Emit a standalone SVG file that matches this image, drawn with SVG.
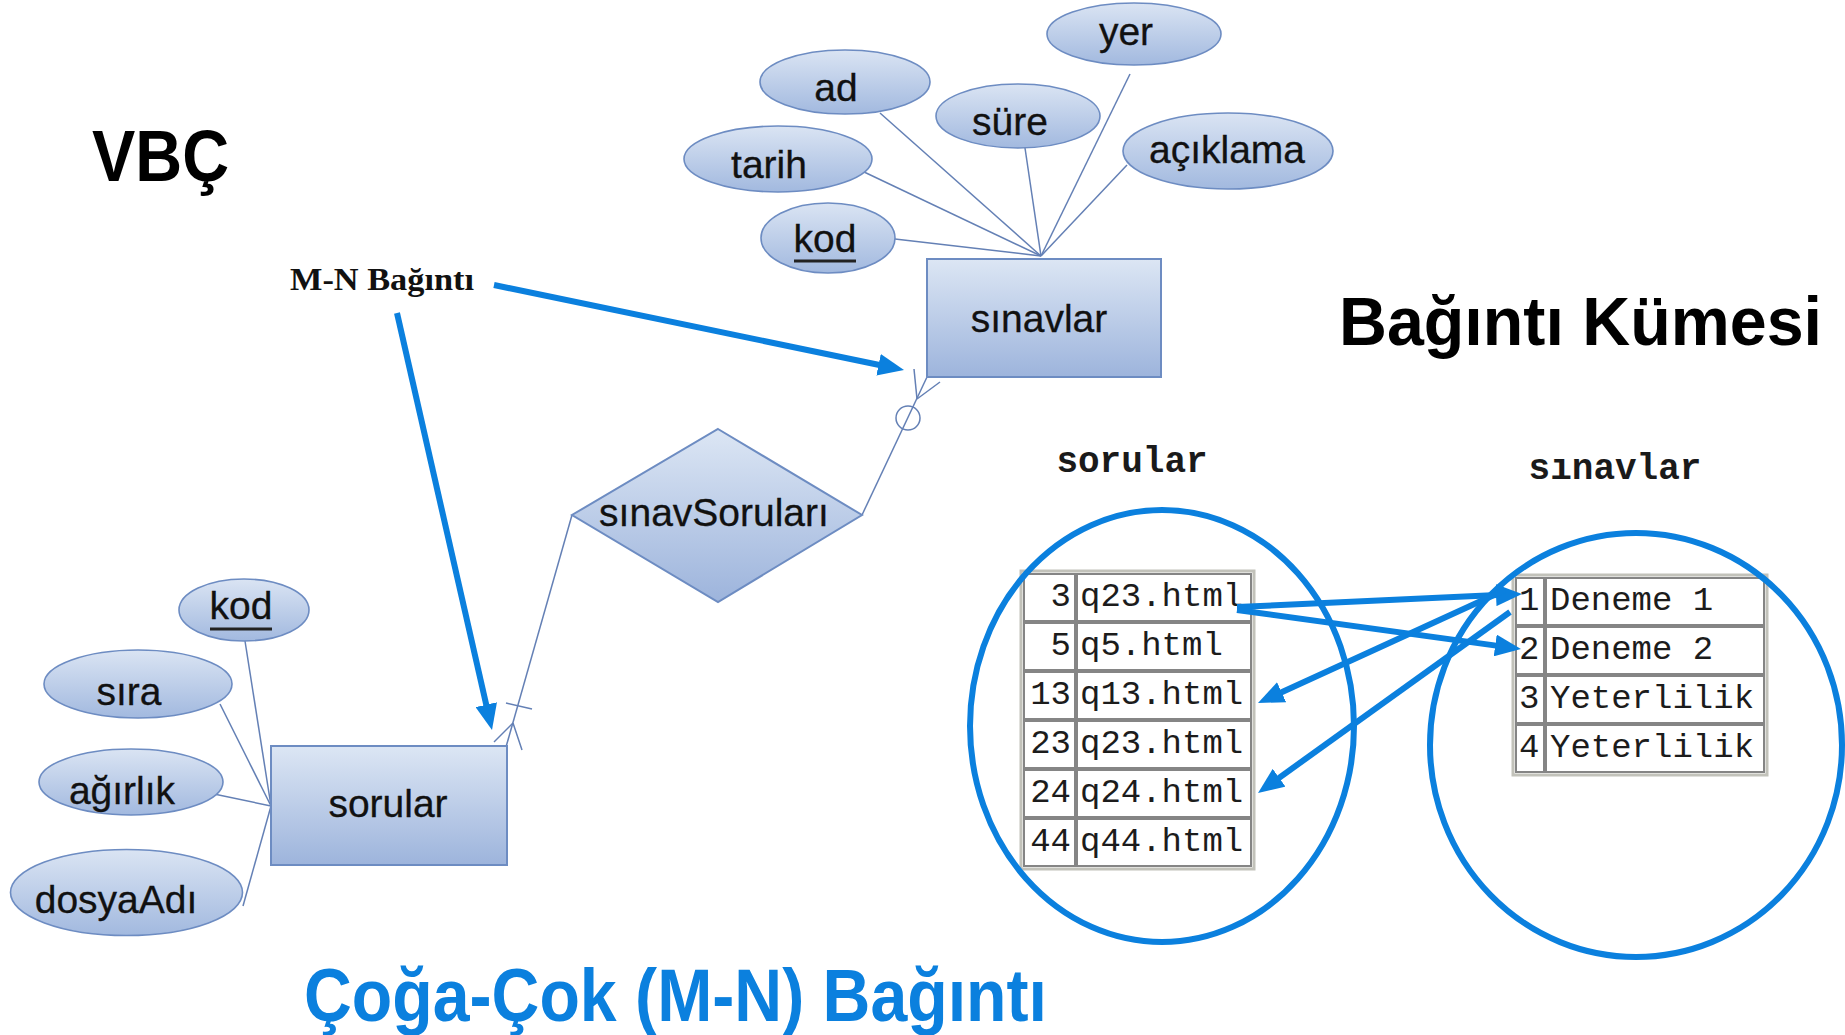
<svg xmlns="http://www.w3.org/2000/svg" width="1845" height="1035" viewBox="0 0 1845 1035">
  <defs>
    <linearGradient id="gEnt" x1="0" y1="0" x2="0" y2="1">
      <stop offset="0" stop-color="#dce6f4"/>
      <stop offset="1" stop-color="#9db4dc"/>
    </linearGradient>
    <linearGradient id="gAttr" x1="0" y1="0" x2="0" y2="1">
      <stop offset="0" stop-color="#dae4f3"/>
      <stop offset="1" stop-color="#a2b9df"/>
    </linearGradient>
    <marker id="ah" markerUnits="userSpaceOnUse" markerWidth="26" markerHeight="22" viewBox="0 0 26 22" refX="12" refY="11" orient="auto">
      <path d="M0,0 L26,11 L0,22 z" fill="#0b80de"/>
    </marker>
    <style>
      .ent { fill: url(#gEnt); stroke: #6d8cc2; stroke-width: 2; }
      .attr { fill: url(#gAttr); stroke: #6d8cc2; stroke-width: 1.6; }
      .lbl { font-family: "Liberation Sans", Arial, sans-serif; font-size: 39px; fill: #111; stroke: #111; stroke-width: 0.3; text-anchor: middle; }
      .ul { stroke: #222; stroke-width: 3; }
      .link { stroke: #6480b5; stroke-width: 1.5; fill: none; }
      .blue { stroke: #0b80de; stroke-width: 6; fill: none; marker-end: url(#ah); }
      .ring { stroke: #0b80de; stroke-width: 6; fill: none; }
      .frame { fill: #ffffff; stroke: #c2c2ba; stroke-width: 3; }
      .cell { fill: #ffffff; stroke: #858585; stroke-width: 2; }
      .mono { font-family: "Liberation Mono", "Courier New", monospace; font-size: 34px; fill: #1c1c1c; }
      .setlbl { font-family: "Liberation Mono", "Courier New", monospace; font-size: 36px; font-weight: bold; fill: #1a1a1a; text-anchor: middle; }
      .title { font-family: "Liberation Sans", Arial, sans-serif; font-weight: bold; }
    </style>
  </defs>

  <rect width="1845" height="1035" fill="#ffffff"/>

  <!-- headings -->
  <text class="title" x="92" y="181" font-size="72" textLength="137" lengthAdjust="spacingAndGlyphs" fill="#000">VBÇ</text>
  <text class="title" x="1339" y="345" font-size="68" textLength="483" lengthAdjust="spacingAndGlyphs" fill="#000">Bağıntı Kümesi</text>
  <text class="title" x="304" y="1021" font-size="74" textLength="743" lengthAdjust="spacingAndGlyphs" fill="#0b80de">Çoğa-Çok (M-N) Bağıntı</text>
  <text x="290" y="290" font-family="'Liberation Serif', 'Times New Roman', serif" font-weight="bold" font-size="32" textLength="184" lengthAdjust="spacingAndGlyphs" fill="#111">M-N Bağıntı</text>

  <!-- ER connectors -->
  <g id="connectors">
    <!-- sinavlar attributes -->
    <line class="link" x1="895" y1="239" x2="1041" y2="256"/>
    <line class="link" x1="862" y1="171" x2="1041" y2="256"/>
    <line class="link" x1="880" y1="113" x2="1041" y2="256"/>
    <line class="link" x1="1025" y1="148" x2="1041" y2="256"/>
    <line class="link" x1="1130" y1="74" x2="1041" y2="256"/>
    <line class="link" x1="1127" y1="165" x2="1041" y2="256"/>
    <!-- sorular attributes -->
    <line class="link" x1="245" y1="641" x2="271" y2="806"/>
    <line class="link" x1="220" y1="704" x2="271" y2="806"/>
    <line class="link" x1="214" y1="794" x2="271" y2="806"/>
    <line class="link" x1="243" y1="906" x2="271" y2="806"/>
    <!-- relationship to sinavlar: zero-or-many -->
    <line class="link" x1="862" y1="515" x2="927" y2="377"/>
    <line class="link" x1="917" y1="399" x2="914" y2="369"/>
    <line class="link" x1="917" y1="399" x2="940" y2="382"/>
    <circle class="link" cx="908" cy="418" r="12"/>
    <!-- relationship to sorular: one-or-many -->
    <line class="link" x1="572" y1="515" x2="506" y2="747"/>
    <line class="link" x1="513" y1="723" x2="494" y2="742"/>
    <line class="link" x1="513" y1="723" x2="522" y2="750"/>
    <line class="link" x1="506" y1="703" x2="532" y2="709"/>
    <!-- callout arrows -->
    <line class="blue" x1="494" y1="285" x2="890.3" y2="367.2"/>
    <line class="blue" x1="397" y1="313" x2="488.9" y2="716.4"/>
  </g>

  <!-- entity: sinavlar -->
  <g id="sinavlar">
    <rect class="ent" x="927" y="259" width="234" height="118"/>
    <text class="lbl" x="1039" y="332">sınavlar</text>
  </g>
  <g id="attr-yer">
    <ellipse class="attr" cx="1134" cy="34" rx="87" ry="31"/>
    <text class="lbl" x="1126" y="45">yer</text>
  </g>
  <g id="attr-ad">
    <ellipse class="attr" cx="845" cy="82" rx="85" ry="32"/>
    <text class="lbl" x="836" y="101">ad</text>
  </g>
  <g id="attr-sure">
    <ellipse class="attr" cx="1018" cy="116" rx="82" ry="32"/>
    <text class="lbl" x="1010" y="135">süre</text>
  </g>
  <g id="attr-tarih">
    <ellipse class="attr" cx="778" cy="159" rx="94" ry="33"/>
    <text class="lbl" x="769" y="178">tarih</text>
  </g>
  <g id="attr-aciklama">
    <ellipse class="attr" cx="1228" cy="151" rx="105" ry="38"/>
    <text class="lbl" x="1227" y="163">açıklama</text>
  </g>
  <g id="attr-kod-sinav">
    <ellipse class="attr" cx="828" cy="238" rx="67" ry="35"/>
    <text class="lbl" x="825" y="252">kod</text>
    <line class="ul" x1="794" y1="261" x2="856" y2="261"/>
  </g>

  <!-- relationship: sinavSorulari -->
  <g id="sinavSorulari">
    <polygon class="ent" points="718,429 862,515 718,602 572,515"/>
    <text class="lbl" x="714" y="526">sınavSoruları</text>
  </g>

  <!-- entity: sorular -->
  <g id="sorular">
    <rect class="ent" x="271" y="746" width="236" height="119"/>
    <text class="lbl" x="388" y="817">sorular</text>
  </g>
  <g id="attr-kod-soru">
    <ellipse class="attr" cx="244" cy="610" rx="65" ry="31"/>
    <text class="lbl" x="241" y="619">kod</text>
    <line class="ul" x1="210" y1="629" x2="272" y2="629"/>
  </g>
  <g id="attr-sira">
    <ellipse class="attr" cx="138" cy="684" rx="94" ry="34"/>
    <text class="lbl" x="129" y="705">sıra</text>
  </g>
  <g id="attr-agirlik">
    <ellipse class="attr" cx="131" cy="782" rx="92" ry="33"/>
    <text class="lbl" x="122" y="804">ağırlık</text>
  </g>
  <g id="attr-dosyaAdi">
    <ellipse class="attr" cx="126.5" cy="892.5" rx="116" ry="43"/>
    <text class="lbl" x="116" y="913">dosyaAdı</text>
  </g>

  <!-- relation set: sorular table -->
  <g id="set-sorular">
    <text class="setlbl" x="1132" y="472">sorular</text>
    <rect class="frame" x="1021" y="571" width="233" height="298"/>
    <g>
      <rect class="cell" x="1024" y="574" width="51" height="47"/><rect class="cell" x="1077" y="574" width="174" height="47"/>
      <rect class="cell" x="1024" y="623" width="51" height="47"/><rect class="cell" x="1077" y="623" width="174" height="47"/>
      <rect class="cell" x="1024" y="672" width="51" height="47"/><rect class="cell" x="1077" y="672" width="174" height="47"/>
      <rect class="cell" x="1024" y="721" width="51" height="47"/><rect class="cell" x="1077" y="721" width="174" height="47"/>
      <rect class="cell" x="1024" y="770" width="51" height="47"/><rect class="cell" x="1077" y="770" width="174" height="47"/>
      <rect class="cell" x="1024" y="819" width="51" height="47"/><rect class="cell" x="1077" y="819" width="174" height="47"/>
    </g>
    <g class="mono" text-anchor="end">
      <text x="1071" y="606">3</text>
      <text x="1071" y="655">5</text>
      <text x="1071" y="704">13</text>
      <text x="1071" y="753">23</text>
      <text x="1071" y="802">24</text>
      <text x="1071" y="851">44</text>
    </g>
    <g class="mono">
      <text x="1080" y="606">q23.html</text>
      <text x="1080" y="655">q5.html</text>
      <text x="1080" y="704">q13.html</text>
      <text x="1080" y="753">q23.html</text>
      <text x="1080" y="802">q24.html</text>
      <text x="1080" y="851">q44.html</text>
    </g>
    <ellipse class="ring" cx="1162" cy="726" rx="192" ry="216"/>
  </g>

  <!-- relation set: sinavlar table -->
  <g id="set-sinavlar">
    <text class="setlbl" x="1615" y="479">sınavlar</text>
    <rect class="frame" x="1513" y="575" width="254" height="200"/>
    <g>
      <rect class="cell" x="1516" y="578" width="28" height="47"/><rect class="cell" x="1546" y="578" width="218" height="47"/>
      <rect class="cell" x="1516" y="627" width="28" height="47"/><rect class="cell" x="1546" y="627" width="218" height="47"/>
      <rect class="cell" x="1516" y="676" width="28" height="47"/><rect class="cell" x="1546" y="676" width="218" height="47"/>
      <rect class="cell" x="1516" y="725" width="28" height="47"/><rect class="cell" x="1546" y="725" width="218" height="47"/>
    </g>
    <g class="mono">
      <text x="1519" y="610">1</text>
      <text x="1519" y="659">2</text>
      <text x="1519" y="708">3</text>
      <text x="1519" y="757">4</text>
      <text x="1550" y="610">Deneme 1</text>
      <text x="1550" y="659">Deneme 2</text>
      <text x="1550" y="708">Yeterlilik</text>
      <text x="1550" y="757">Yeterlilik</text>
    </g>
    <ellipse class="ring" cx="1636" cy="745" rx="206" ry="212"/>
  </g>

  <!-- pairings between the two sets -->
  <g id="set-links">
    <line class="blue" x1="1237" y1="607" x2="1508" y2="594.6"/>
    <line class="blue" x1="1237" y1="610" x2="1507.1" y2="647.1"/>
    <line class="blue" x1="1505" y1="590" x2="1270.7" y2="697.2"/>
    <line class="blue" x1="1510" y1="612" x2="1269.4" y2="784.8"/>
  </g>
</svg>
